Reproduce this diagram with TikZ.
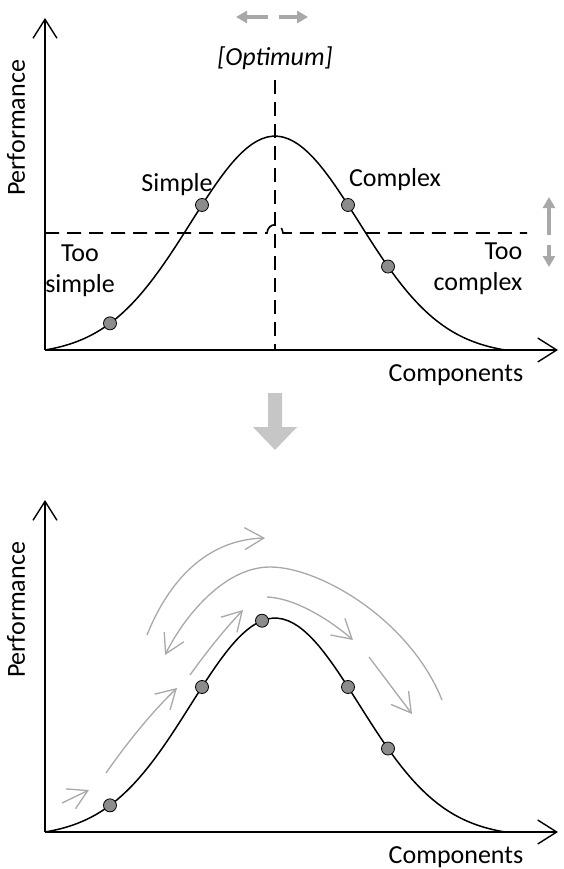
\documentclass[tikz,border=0pt]{standalone}
\usepackage{fontspec}
\setmainfont{Carlito}
\usetikzlibrary{arrows.meta}

\definecolor{hintgray}{HTML}{A8A8A8}
\definecolor{dotgray}{HTML}{8C8C8C}
\definecolor{bigarrow}{HTML}{C6C6C6}
\newcommand{\bell}[1]{219*(exp(-0.5*(((#1)-275)/84)^2)-0.0235)}

\begin{document}
\begin{tikzpicture}[x=1pt,y=-1pt,font=\fontsize{26}{31}\selectfont]
  \tikzstyle{axis}=[line width=1.4pt,-{Straight Barb[length=19pt,width=24pt]}]
  \tikzstyle{curve}=[line width=1.5pt]
  \tikzstyle{dot}=[circle,draw=black,fill=dotgray,line width=0.8pt,inner sep=0pt,minimum size=13pt]
  \tikzstyle{hint}=[draw=hintgray,line width=1.3pt,-{Straight Barb[length=19pt,width=22pt]}]
  \tikzstyle{nudge}=[draw=hintgray,line width=3.5pt,-{Triangle[length=11pt,width=12pt]}]
  \tikzstyle{guide}=[line width=1.6pt,dash pattern=on 14pt off 8pt]

  \useasboundingbox (0,0) rectangle (563,869);

  % dashed guides of the upper plot
  \draw[guide] (275,80) -- (275,350);
  \draw[guide] (45,233) -- (267,233) .. controls (268,222) and (282,222) .. (283,233) -- (527,233);

  % both plots
  \foreach \yy/\pl in {350/a,832/b}{
    \coordinate (\pl o) at (45,\yy);
    \coordinate (\pl y) at (45,\yy-332);
    \coordinate (\pl x) at (558,\yy);
    \draw[axis] (\pl o) -- (\pl y);
    \draw[axis] (\pl o) -- (\pl x);
    \draw[curve] plot[domain=45:505,samples=90] (\x,{\yy-\bell{\x}});
    \node[rotate=90] (\pl perf) at (16,\yy-222) {Performance};
    \node (\pl comp) at (456,\yy+25) {Components};
  }

  \foreach \xx/\n in {110/1,202/2,348/3,388/4}
    \node[dot] (a\n) at (\xx,{350-\bell{\xx}}) {};
  \foreach \xx/\n in {110/1,202/2,262/3,348/4,388/5}
    \node[dot] (b\n) at (\xx,{832-\bell{\xx}}) {};

  % labels of the upper plot
  \node (opt) at (275,58) {\itshape [Optimum]};
  \node (simple) at (177,185) {Simple};
  \node (complex) at (395,180) {Complex};
  \node[align=center] (toosimple) at (80,271) {Too\\simple};
  \node[align=right] (toocomplex) at (478,269) {Too\\complex};

  \draw[nudge] (268,17) -- (236,17);
  \draw[nudge] (279,17) -- (308,17);
  \draw[nudge] (549,235) -- (549,197);
  \draw[nudge] (549,245) -- (549,267);

  % big arrow between the plots
  \fill[bigarrow] (268,393) -- (282,393) -- (282,427) -- (297,427) -- (275,450)
    -- (253,427) -- (268,427) -- cycle;

  % moves in the lower plot
  \draw[hint] (62,803) -- (89,790);
  \draw[hint] (106,773) .. controls (127,743) and (151,713) .. (177,688);
  \draw[hint] (190,675) .. controls (208,650) and (224,630) .. (243,610);
  \draw[hint] (147,635) .. controls (165,590) and (200,540) .. (265,538);
  \draw[hint] (442,700) .. controls (410,620) and (320,567) .. (270,567)
    .. controls (225,567) and (185,615) .. (165,655);
  \draw[hint] (267,597) .. controls (295,598) and (330,620) .. (353,640);
  \draw[hint] (369,657) -- (412,714);
\end{tikzpicture}
\end{document}
